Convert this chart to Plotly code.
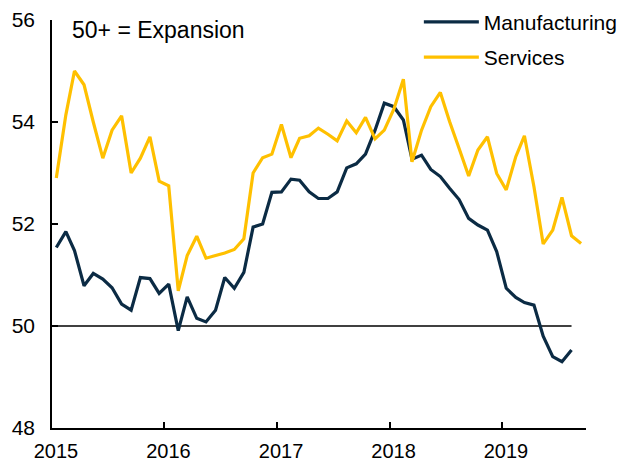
import pandas as pd
import plotly.graph_objects as go

# ---- data (monthly PMI readings, Jan 2015 onwards) ----
services = [52.90, 54.14, 55.00, 54.73, 54.00, 53.29, 53.84, 54.12, 53.00, 53.29, 53.71, 52.84,
            52.75, 50.69, 51.38, 51.76, 51.33, 51.38, 51.43, 51.50, 51.71, 53.00, 53.30, 53.37,
            53.95, 53.30, 53.68, 53.73, 53.88, 53.76, 53.63, 54.02, 53.79, 54.09, 53.67, 53.84,
            54.25, 54.84, 53.22, 53.84, 54.30, 54.58, 54.01, 53.48, 52.94, 53.45, 53.71, 52.99,
            52.67, 53.32, 53.73, 52.73, 51.61, 51.88, 52.52, 51.77, 51.62]
manufacturing = [51.54, 51.85, 51.48, 50.79, 51.03, 50.92, 50.75, 50.43, 50.31, 50.95, 50.93, 50.64,
                 50.82, 49.91, 50.57, 50.15, 50.08, 50.31, 50.95, 50.74, 51.05, 51.94, 52.00, 52.62,
                 52.63, 52.88, 52.86, 52.63, 52.50, 52.50, 52.63, 53.10, 53.18, 53.37, 53.84, 54.37,
                 54.30, 54.04, 53.27, 53.35, 53.07, 52.93, 52.70, 52.48, 52.11, 51.98, 51.88, 51.46,
                 50.74, 50.56, 50.46, 50.41, 49.80, 49.40, 49.30, 49.53]
month_dates = pd.date_range("2015-01-01", periods=len(services), freq="MS") + pd.Timedelta(days=14)
year_ticks = ["2015", "2016", "2017", "2018", "2019"]
threshold = 50
note_text = "50+ = Expansion"

NAVY = "#0b2b44"
GOLD = "#ffc000"
FONT = "Arial, Liberation Sans, sans-serif"

fig = go.Figure()
fig.add_trace(go.Scatter(x=month_dates[:len(manufacturing)], y=manufacturing, mode="lines",
                         name="Manufacturing", legendgroup="m",
                         line=dict(color=NAVY, width=3.2)))
fig.add_trace(go.Scatter(x=month_dates, y=services, mode="lines",
                         name="Services", legendgroup="s",
                         line=dict(color=GOLD, width=3.2)))

fig.add_shape(type="line", xref="x", yref="y",
              x0="2015-01-01", x1=month_dates[len(manufacturing) - 1],
              y0=threshold, y1=threshold, line=dict(color="black", width=1.5), layer="below")

fig.add_annotation(text=note_text, xref="paper", yref="paper", x=0.034, y=0.975,
                   xanchor="left", yanchor="middle", showarrow=False,
                   font=dict(family=FONT, size=23, color="black"))

fig.update_layout(
    width=620, height=461,
    margin=dict(l=52, r=34, t=20, b=33, autoexpand=False),
    paper_bgcolor="white", plot_bgcolor="white",
    font=dict(family=FONT, size=21, color="black"),
    showlegend=True,
    legend=dict(x=0.687, y=1.045, xanchor="left", yanchor="top",
                bgcolor="rgba(0,0,0,0)", itemwidth=55,
                traceorder="grouped", tracegroupgap=5,
                font=dict(family=FONT, size=21, color="black")),
    xaxis=dict(type="date", range=["2015-01-01", "2019-10-01"],
               tickvals=[f"{y}-01-01" for y in year_ticks], ticktext=year_ticks,
               tickfont=dict(family=FONT, size=20, color="black"),
               ticks="inside", ticklen=6, tickwidth=1.5, tickcolor="black",
               showline=True, linecolor="black", linewidth=1.5,
               showgrid=False, zeroline=False, ticklabelstandoff=4, ticklabelshift=4),
    yaxis=dict(range=[48, 56], tickvals=[48, 50, 52, 54, 56],
               ticks="inside", ticklen=6, tickwidth=1.5, tickcolor="black",
               showline=True, linecolor="black", linewidth=1.5,
               showgrid=False, zeroline=False, ticklabelstandoff=11),
)

fig.write_html("out.html", config={"displayModeBar": False},
               post_script="document.body.style.margin='0';document.body.style.overflow='hidden';")
